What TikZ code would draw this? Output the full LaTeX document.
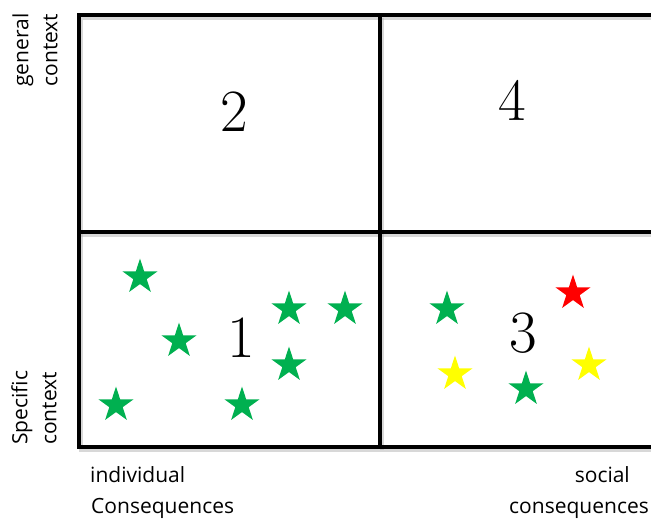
\documentclass[tikz,border=0pt]{standalone}
\usepackage{fontspec}
\newfontfamily\labelfont{Open Sans}
\usetikzlibrary{shapes.geometric}
\definecolor{stargreen}{RGB}{0,176,80}
\definecolor{staryellow}{RGB}{255,255,0}
\definecolor{starred}{RGB}{255,0,0}
\begin{document}
\begin{tikzpicture}[x=1pt,y=-1pt,
  starnode/.style={star, star points=5, star point ratio=2.618, minimum size=37pt, inner sep=0pt, draw=none},
  gline/.style={line width=4pt},
  gshadow/.style={line width=4pt, draw=black!30, opacity=0.5},
  lbl/.style={font=\labelfont\fontsize{21}{29}\selectfont, inner sep=0pt},
  num/.style={font=\fontsize{60}{60}\selectfont, inner sep=0pt}]
\useasboundingbox (0,0) rectangle (651,522);
\fill[white] (0,0) rectangle (651,522);
\begin{scope}
\clip (0,0) rectangle (651,522);
\draw[gshadow, shift={(1.5,2.5)}] (79,15) rectangle (660,447);
\draw[gshadow, shift={(1.5,2.5)}] (380,15) -- (380,447);
\draw[gshadow, shift={(1.5,2.5)}] (79,232) -- (660,232);
\draw[gline] (79,15) rectangle (660,447);
\draw[gline] (380,15) -- (380,447);
\draw[gline] (79,232) -- (660,232);
\end{scope}
% numbers
\node[num] (n2) at (234,112) {2};
\node[num] (n4) at (512,100) {4};
\node[num] (n1) at (241,338) {1};
\node[num] (n3) at (523,333) {3};
% stars quadrant 1
\node[starnode, fill=stargreen] (s1a) at (140,277) {};
\node[starnode, fill=stargreen] (s1b) at (179,341) {};
\node[starnode, fill=stargreen] (s1c) at (116,405) {};
\node[starnode, fill=stargreen] (s1d) at (242,405) {};
\node[starnode, fill=stargreen] (s1e) at (289,309) {};
\node[starnode, fill=stargreen] (s1f) at (345,309) {};
\node[starnode, fill=stargreen] (s1g) at (289,365) {};
% stars quadrant 3
\node[starnode, fill=stargreen] (s3a) at (447,309) {};
\node[starnode, fill=starred] (s3b) at (573,293) {};
\node[starnode, fill=staryellow] (s3c) at (455,374) {};
\node[starnode, fill=staryellow] (s3d) at (589,365) {};
\node[starnode, fill=stargreen] (s3e) at (526,389) {};
% labels
\node[lbl, anchor=base west] (indiv) at (90,482) {individual};
\node[lbl, anchor=base west] (conseqL) at (91,513) {Consequences};
\node[lbl, anchor=base east] (social) at (630,482) {social};
\node[lbl, anchor=base east] (conseqR) at (649,513) {consequences};
\node[lbl, rotate=90, align=center] (gen) at (35,50) {general\\context};
\node[lbl, rotate=90, align=left, anchor=west] (spec) at (34,445) {Specific\\context};
\end{tikzpicture}
\end{document}
